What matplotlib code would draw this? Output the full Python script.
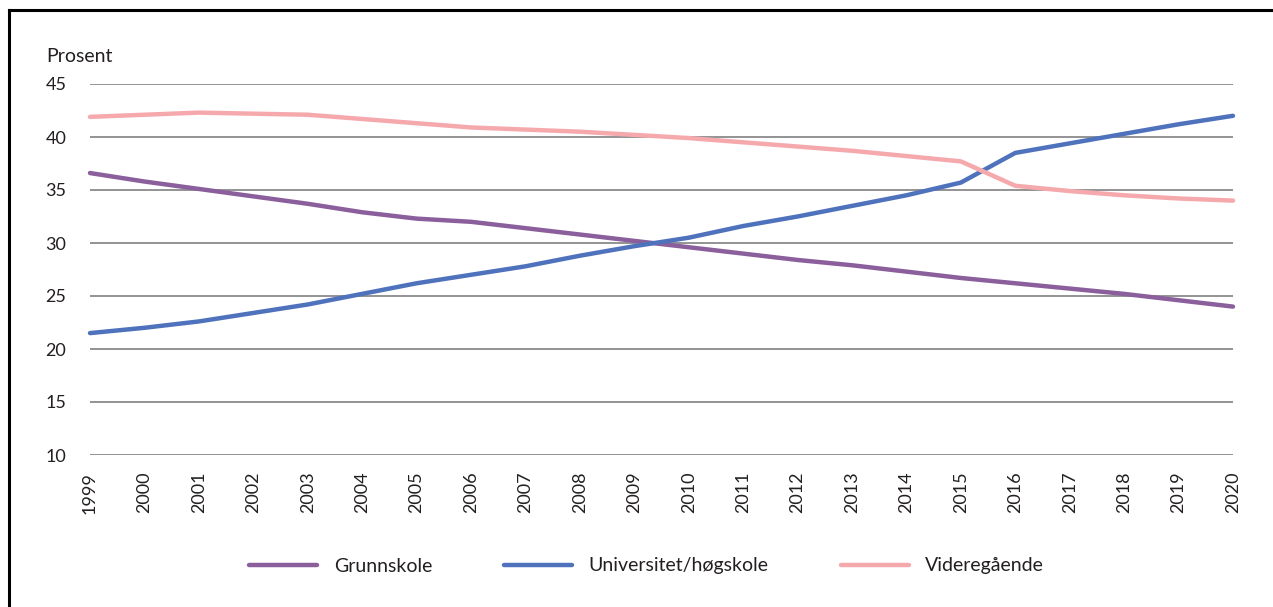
import numpy as np
import matplotlib
matplotlib.use('Agg')
import matplotlib.pyplot as plt
from matplotlib.lines import Line2D

plt.rcParams['font.family'] = ['Lato', 'DejaVu Sans']

years = list(range(1999, 2021))
grunnskole = [36.6, 35.8, 35.1, 34.4, 33.7, 32.9, 32.3, 32.0, 31.4, 30.8, 30.2,
              29.6, 29.0, 28.4, 27.9, 27.3, 26.7, 26.2, 25.7, 25.2, 24.6, 24.0]
universitet = [21.5, 22.0, 22.6, 23.4, 24.2, 25.2, 26.2, 27.0, 27.8, 28.8, 29.7,
               30.5, 31.6, 32.5, 33.5, 34.5, 35.7, 38.5, 39.4, 40.3, 41.2, 42.0]
videregaende = [41.9, 42.1, 42.3, 42.2, 42.1, 41.7, 41.3, 40.9, 40.7, 40.5, 40.2,
                39.9, 39.5, 39.1, 38.7, 38.2, 37.7, 35.4, 34.9, 34.5, 34.2, 34.0]
yticks = [10, 15, 20, 25, 30, 35, 40, 45]

fig = plt.figure(figsize=(12.73, 6.07), dpi=100)
ax = fig.add_axes([90/1273, 1-455/607, (1233-90)/1273, (455-84)/607])

lw = 3.2
ax.plot(years, grunnskole, color='#8b5f9c', lw=lw, solid_capstyle='round', clip_on=False, label='Grunnskole', zorder=3)
ax.plot(years, universitet, color='#4f72bd', lw=lw, solid_capstyle='round', clip_on=False, label='Universitet/høgskole', zorder=3)
ax.plot(years, videregaende, color='#f6a9ad', lw=lw, solid_capstyle='round', clip_on=False, label='Videregående', zorder=3)

ax.set_xlim(1999, 2020)
ax.set_ylim(10, 45)
ax.set_yticks(yticks)
ax.set_xticks(years)
ax.set_xticklabels([str(y) for y in years], rotation=90, va='top', ha='center')
ax.tick_params(axis='both', length=0, labelsize=13, colors='#231f20')
ax.tick_params(axis='x', pad=12)
ax.tick_params(axis='y', pad=17)
ax.grid(axis='y', color='#808080', lw=1.2)
ax.set_axisbelow(True)
for s in ax.spines.values():
    s.set_visible(False)

fig.text(46/1273, 1-56/607, 'Prosent', fontsize=14, color='#231f20', va='center', ha='left')

leg = fig.legend(loc='center', bbox_to_anchor=(0.508, 1-566/607), ncol=3, frameon=False,
                 fontsize=14, handlelength=3.5, handletextpad=0.85, columnspacing=3.7)
for t in leg.get_texts():
    t.set_color('#231f20')
for h in leg.get_lines():
    h.set_solid_capstyle('round')

# frame border (partly cut off in the original)
fig.add_artist(Line2D([9/1273, 9/1273], [-0.1, 1-10/607], color='black', lw=2.2, transform=fig.transFigure))
fig.add_artist(Line2D([9/1273, 1.1], [1-10/607, 1-10/607], color='black', lw=2.2, transform=fig.transFigure))

fig.savefig('out.png', dpi=100)
